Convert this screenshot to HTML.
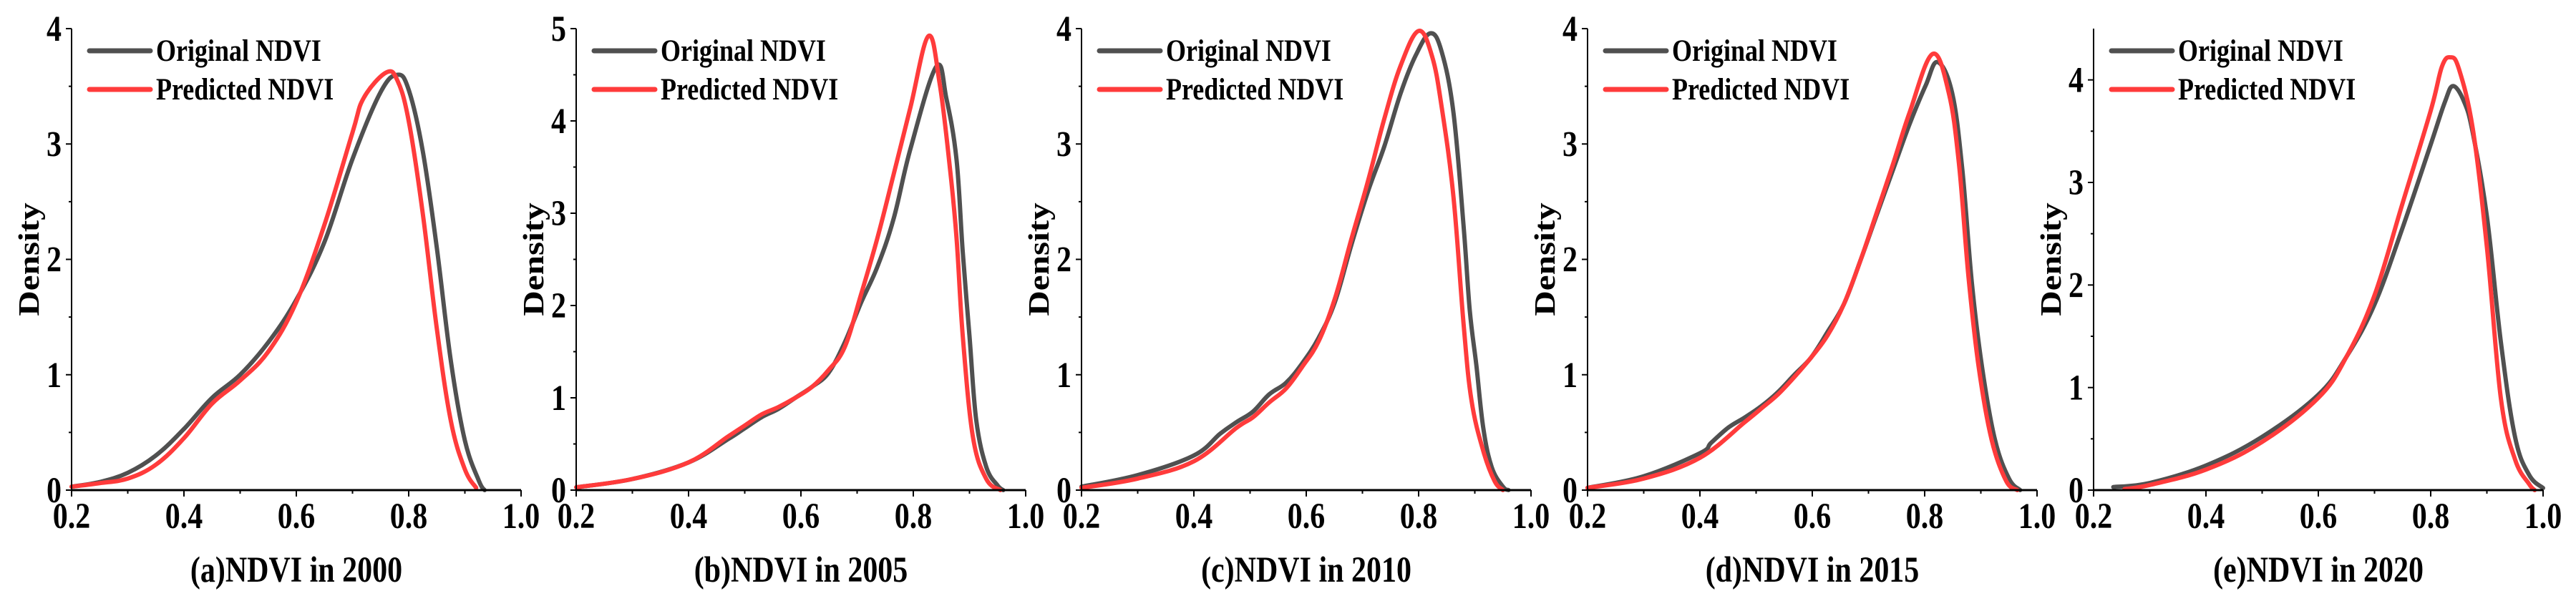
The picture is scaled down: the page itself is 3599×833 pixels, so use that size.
<!DOCTYPE html>
<html><head><meta charset="utf-8">
<style>
html,body{margin:0;padding:0;background:#fff;}
svg{display:block;}
text{font-family:"Liberation Serif","Times New Roman",serif;font-weight:bold;fill:#000;}
</style></head>
<body>
<svg id="chart" width="3599" height="833" viewBox="0 0 3599 833" xmlns="http://www.w3.org/2000/svg"></svg>
<script>
const panelTitles = ["(a)NDVI in 2000","(b)NDVI in 2005","(c)NDVI in 2010","(d)NDVI in 2015","(e)NDVI in 2020"];
const panelYMax = [4, 5, 4, 4, 4.5];
const xTicks = [0.2, 0.4, 0.6, 0.8, 1.0];
const xTickLabels = ["0.2","0.4","0.6","0.8","1.0"];
const seriesNames = ["Original NDVI","Predicted NDVI"];

const origA_x = [0.2,0.25,0.3,0.35,0.4,0.45,0.5,0.55,0.6,0.65,0.7,0.75,0.78,0.8,0.825,0.85,0.875,0.9,0.925,0.935];
const origA_y = [0.03,0.07,0.15,0.3,0.53,0.8,1.0,1.28,1.65,2.15,2.87,3.45,3.6,3.47,2.94,2.1,1.12,0.43,0.08,0];
const predA_x = [0.2,0.25,0.3,0.35,0.4,0.45,0.5,0.55,0.6,0.65,0.7,0.72,0.76,0.78,0.8,0.825,0.85,0.875,0.9,0.92];
const predA_y = [0.03,0.06,0.1,0.22,0.45,0.75,0.95,1.2,1.63,2.3,3.1,3.4,3.62,3.55,3.2,2.4,1.4,0.6,0.18,0.02];

const origB_x = [0.2,0.3,0.4,0.47,0.5,0.53,0.56,0.59,0.62,0.649,0.678,0.707,0.736,0.765,0.795,0.841,0.859,0.877,0.888,0.9,0.912,0.93,0.95,0.96];
const origB_y = [0.03,0.12,0.3,0.55,0.67,0.79,0.88,1.0,1.12,1.27,1.6,2.03,2.42,2.94,3.7,4.59,4.24,3.58,2.58,1.67,0.76,0.25,0.05,0];
const predB_x = [0.2,0.3,0.4,0.47,0.5,0.53,0.56,0.59,0.62,0.649,0.678,0.707,0.736,0.765,0.795,0.827,0.847,0.865,0.877,0.888,0.906,0.93,0.955];
const predB_y = [0.03,0.12,0.3,0.58,0.7,0.82,0.9,1.0,1.12,1.3,1.55,2.12,2.73,3.42,4.15,4.92,4.4,3.5,2.73,1.67,0.58,0.12,0];

const origC_x = [0.2,0.3,0.4,0.447,0.476,0.505,0.534,0.564,0.593,0.622,0.651,0.68,0.71,0.739,0.768,0.795,0.821,0.841,0.862,0.88,0.891,0.903,0.915,0.93,0.95,0.96];
const origC_y = [0.03,0.13,0.3,0.49,0.59,0.68,0.83,0.93,1.1,1.32,1.63,2.12,2.59,2.98,3.44,3.77,3.96,3.8,3.27,2.29,1.56,1.07,0.54,0.2,0.03,0];
const predC_x = [0.2,0.3,0.4,0.476,0.505,0.534,0.564,0.593,0.622,0.651,0.68,0.71,0.739,0.768,0.8,0.824,0.841,0.862,0.88,0.894,0.915,0.935,0.95];
const predC_y = [0.02,0.1,0.25,0.54,0.63,0.76,0.88,1.07,1.29,1.66,2.17,2.68,3.22,3.68,3.98,3.76,3.32,2.54,1.44,0.78,0.34,0.08,0];

const origD_x = [0.2,0.3,0.4,0.42,0.45,0.48,0.51,0.539,0.568,0.598,0.627,0.656,0.685,0.715,0.744,0.773,0.802,0.823,0.849,0.867,0.884,0.902,0.925,0.95,0.97];
const origD_y = [0.02,0.12,0.32,0.41,0.54,0.63,0.73,0.85,1.0,1.15,1.37,1.61,1.98,2.39,2.78,3.17,3.51,3.71,3.44,2.78,1.8,1.07,0.44,0.1,0];
const predD_x = [0.2,0.3,0.4,0.48,0.51,0.539,0.568,0.598,0.627,0.656,0.685,0.715,0.744,0.773,0.814,0.843,0.861,0.878,0.896,0.919,0.945,0.965];
const predD_y = [0.02,0.1,0.28,0.59,0.71,0.83,0.98,1.15,1.34,1.61,1.98,2.41,2.83,3.27,3.78,3.44,2.83,1.85,1.07,0.44,0.08,0];

const origE_x = [0.235,0.3,0.4,0.5,0.6,0.65,0.7,0.75,0.8,0.825,0.84,0.86,0.875,0.9,0.925,0.95,0.975,1.0];
const origE_y = [0.03,0.07,0.24,0.52,0.93,1.3,1.81,2.56,3.37,3.78,3.94,3.78,3.48,2.67,1.44,0.52,0.15,0.02];
const predE_x = [0.255,0.3,0.4,0.5,0.6,0.65,0.7,0.75,0.8,0.82,0.835,0.85,0.875,0.9,0.925,0.95,0.975,0.985];
const predE_y = [0.01,0.05,0.2,0.47,0.9,1.3,1.9,2.8,3.7,4.13,4.22,4.11,3.52,2.37,0.89,0.3,0.06,0];

const origXs=[origA_x,origB_x,origC_x,origD_x,origE_x], origYs=[origA_y,origB_y,origC_y,origD_y,origE_y];
const predXs=[predA_x,predB_x,predC_x,predD_x,predE_x], predYs=[predA_y,predB_y,predC_y,predD_y,predE_y];

const NS="http://www.w3.org/2000/svg";
const svg=document.getElementById('chart');
const axisLeft=[100,805,1511,2218,2925];
const W=628, yTop=40, yBot=685, SY=1.2;
function mk(tag,attrs,parent){const e=document.createElementNS(NS,tag);for(const k in attrs)e.setAttribute(k,attrs[k]);parent.appendChild(e);return e;}
function txt(parent,x,y,size,anchor,str,name){
  const t=mk('text',{x:0,y:0,'font-size':size,'text-anchor':anchor,transform:`translate(${x},${y}) scale(1,${SY})`},parent);
  t.textContent=str;
  
  
  return t;
}
function smooth(pts){
  let d="M"+pts[0][0].toFixed(1)+","+pts[0][1].toFixed(1);
  for(let i=0;i<pts.length-1;i++){
    const p0=pts[Math.max(0,i-1)],p1=pts[i],p2=pts[i+1],p3=pts[Math.min(pts.length-1,i+2)];
    const t=0.18;
    const c1=[p1[0]+(p2[0]-p0[0])*t,p1[1]+(p2[1]-p0[1])*t];
    const c2=[p2[0]-(p3[0]-p1[0])*t,p2[1]-(p3[1]-p1[1])*t];
    d+=" C"+c1[0].toFixed(1)+","+c1[1].toFixed(1)+" "+c2[0].toFixed(1)+","+c2[1].toFixed(1)+" "+p2[0].toFixed(1)+","+p2[1].toFixed(1);
  }
  return d;
}
for(let p=0;p<5;p++){
  const x0=axisLeft[p];
  const ymax=panelYMax[p];
  const xs=v=>x0+(v-0.2)/0.8*W;
  const ys=v=>yBot-v/ymax*(yBot-yTop);
  const g=mk('g',{},svg);
  
  
  const sets=[[origXs[p],origYs[p],'#505050','original-ndvi-curve'],[predXs[p],predYs[p],'#ff3b3b','predicted-ndvi-curve']];
  for(const [X,Y,col,nm] of sets){
    const pts=X.map((v,i)=>[xs(v),ys(Y[i])]);
    const path=mk('path',{d:smooth(pts),fill:'none',stroke:col,'stroke-width':6,'stroke-linejoin':'round','stroke-linecap':'round'},g);
    
    
  }
  const ya=mk('line',{x1:x0,y1:yTop,x2:x0,y2:yBot,stroke:'#000','stroke-width':2},g);
  
  
  const xa=mk('line',{x1:x0-1,y1:yBot,x2:x0+W,y2:yBot,stroke:'#000','stroke-width':3},g);
  
  
  for(let i=0;i<xTicks.length;i++){
    const tx=xs(xTicks[i]);
    mk('line',{x1:tx,y1:yBot,x2:tx,y2:yBot+9,stroke:'#000','stroke-width':2},g);
    if(i<xTicks.length-1){const mx=xs(xTicks[i]+0.1);mk('line',{x1:mx,y1:yBot,x2:mx,y2:yBot+5,stroke:'#000','stroke-width':2},g);}
    txt(g,tx,738,42,'middle',xTickLabels[i],'x-tick-label');
  }
  for(let v=0;v<=Math.floor(ymax);v++){
    const ty=ys(v);
    mk('line',{x1:x0,y1:ty,x2:x0-8,y2:ty,stroke:'#000','stroke-width':2},g);
    txt(g,x0-14,ty+17,42,'end',String(v),'y-tick-label');
  }
  for(let v=0.5;v<ymax;v+=1){const ty=ys(v);mk('line',{x1:x0,y1:ty,x2:x0-4,y2:ty,stroke:'#000','stroke-width':2},g);}
  const yl=mk('text',{x:0,y:0,'font-size':41,'text-anchor':'middle',transform:`translate(${x0-46},${(yTop+yBot)/2}) rotate(-90) scale(${SY},1)`},g);
  yl.textContent="Density";
  
  
  txt(g,x0+W/2,813,42,'middle',panelTitles[p],'panel-title');
  const cols=['#505050','#ff3b3b'];
  for(let k=0;k<2;k++){
    const ly=71+k*54;
    const ll=mk('line',{x1:x0+25,y1:ly,x2:x0+110,y2:ly,stroke:cols[k],'stroke-width':7,'stroke-linecap':'round'},g);
    
    
    txt(g,x0+118,ly+14,36,'start',seriesNames[k],'legend-entry');
  }
}
</script>
</body></html>
